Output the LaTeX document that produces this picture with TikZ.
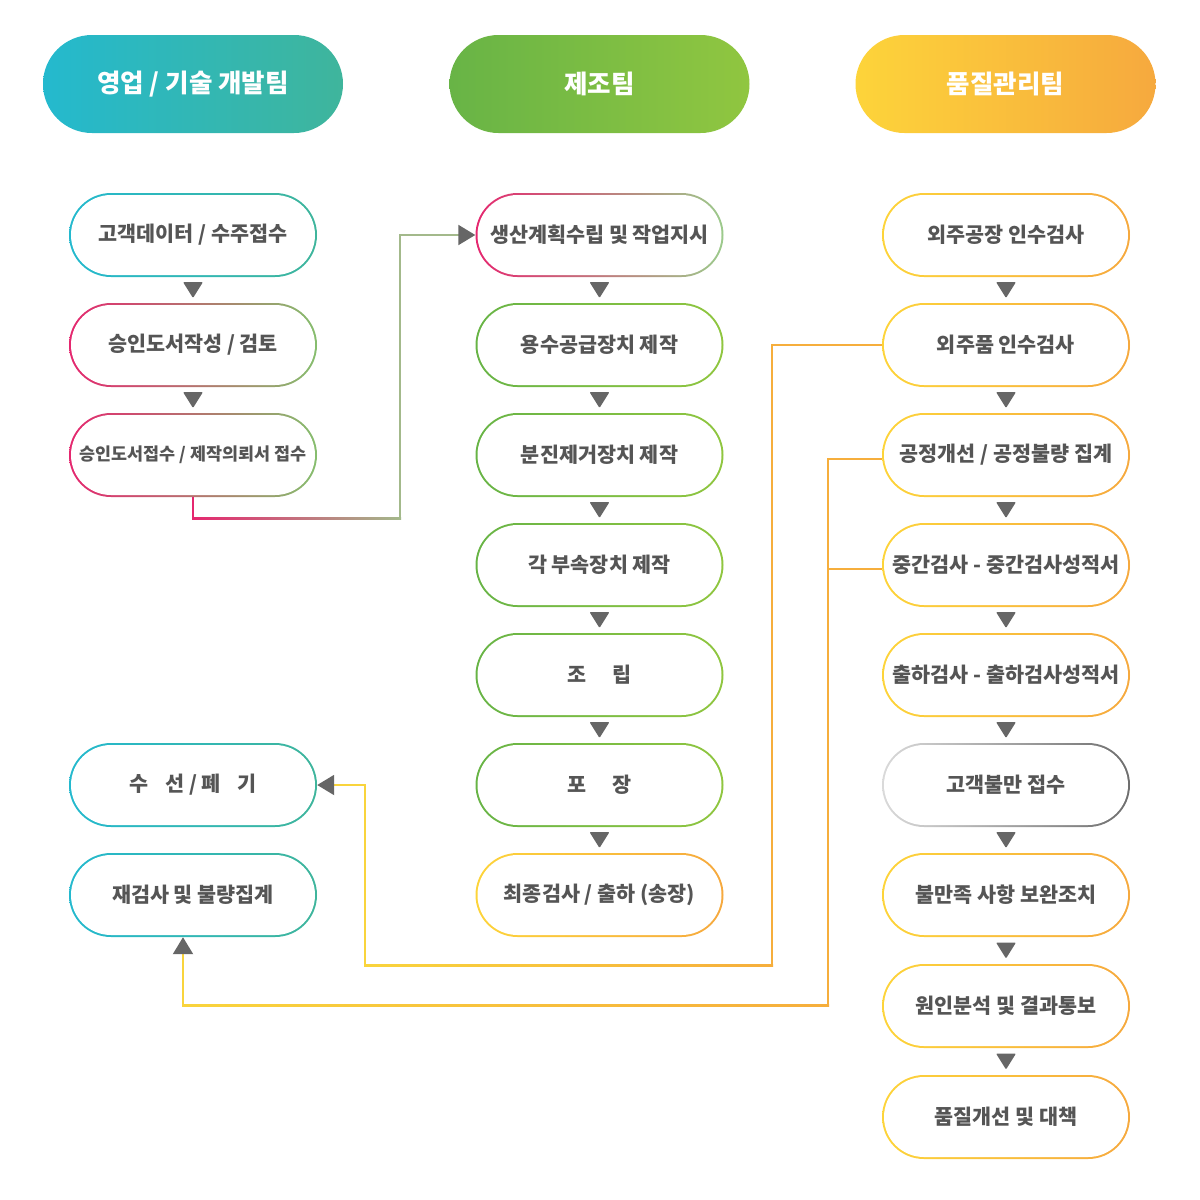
\documentclass[tikz,border=0pt]{standalone}
\usepackage{fontspec}
\setmainfont{Noto Sans CJK KR}
\usetikzlibrary{arrows.meta,calc}
\definecolor{txt}{HTML}{555555}
\definecolor{arrgray}{HTML}{666666}
\definecolor{pinkc}{HTML}{E5276F}
\definecolor{sagec}{HTML}{86BE6E}
\definecolor{litegreen}{HTML}{9CCB8C}
\definecolor{cyanc}{HTML}{24B9CE}
\definecolor{tealc}{HTML}{3FB59C}
\definecolor{greenl}{HTML}{68B446}
\definecolor{greenr}{HTML}{90C640}
\definecolor{yellowc}{HTML}{FDD43A}
\definecolor{orangec}{HTML}{F6A93E}
\definecolor{grayl}{HTML}{DADADA}
\definecolor{grayr}{HTML}{6E6E6E}
\definecolor{lineor}{HTML}{F6AE3C}
\definecolor{lineye}{HTML}{F9D43C}
\definecolor{linesage}{HTML}{A3B98B}
\tikzset{
  flow/.style 2 args={rectangle,rounded corners=42pt,minimum width=248pt,minimum height=84pt,
    inner sep=0pt,left color=#1,right color=#2,text=txt,font=\fontsize{20.7}{24}\selectfont\bfseries,
    path picture={\fill[white,rounded corners=40pt]
      ([shift={(2pt,-2pt)}]path picture bounding box.north west) rectangle
      ([shift={(-2pt,2pt)}]path picture bounding box.south east);}},
  head/.style 2 args={rectangle,rounded corners=49pt,minimum width=300pt,minimum height=98pt,
    left color=#1,right color=#2,text=white,font=\fontsize{25.5}{29}\selectfont\bfseries},
  tri/.style={fill=arrgray,rounded corners=1pt},
  conn/.style={line width=2pt},
  endarrow/.style={-{Triangle[length=17pt,width=20pt,color=arrgray]}}
}
\begin{document}
\begin{tikzpicture}[x=1pt,y=-1pt]

\useasboundingbox (0,0) rectangle (1200,1200);

% team headers
\node[head={cyanc}{tealc}] (h1) at (193,84) {영업 / 기술 개발팀};
\node[head={greenl}{greenr}] (h2) at (599.5,84) {제조팀};
\node[head={yellowc}{orangec}] (h3) at (1005.5,84) {품질관리팀};

% sales / engineering
\node[flow={cyanc}{tealc}] (a1) at (193,235) {고객데이터 / 수주접수};
\node[flow={pinkc}{sagec}] (a2) at (193,345) {승인도서작성 / 검토};
\node[flow={pinkc}{sagec},font=\fontsize{17.4}{20}\selectfont\bfseries] (a3) at (193,455) {승인도서접수 / 제작의뢰서 접수};
\node[flow={cyanc}{tealc}] (a7) at (193,785) {수\hspace{0.8em}선 / 폐\hspace{0.8em}기};
\node[flow={cyanc}{tealc}] (a8) at (193,895) {재검사 및 불량집계};

% manufacturing
\node[flow={pinkc}{litegreen}] (m1) at (599.5,235) {생산계획수립 및 작업지시};
\node[flow={greenl}{greenr}] (m2) at (599.5,345) {용수공급장치 제작};
\node[flow={greenl}{greenr}] (m3) at (599.5,455) {분진제거장치 제작};
\node[flow={greenl}{greenr}] (m4) at (599.5,565) {각 부속장치 제작};
\node[flow={greenl}{greenr}] (m5) at (599.5,675) {조\hspace{1.3em}립};
\node[flow={greenl}{greenr}] (m6) at (599.5,785) {포\hspace{1.3em}장};
\node[flow={yellowc}{orangec}] (m7) at (599.5,895) {최종검사 / 출하 (송장)};

% quality
\node[flow={yellowc}{orangec}] (q1) at (1006,235) {외주공장 인수검사};
\node[flow={yellowc}{orangec}] (q2) at (1006,345) {외주품 인수검사};
\node[flow={yellowc}{orangec}] (q3) at (1006,455) {공정개선 / 공정불량 집계};
\node[flow={yellowc}{orangec}] (q4) at (1006,565) {중간검사 - 중간검사성적서};
\node[flow={yellowc}{orangec}] (q5) at (1006,675) {출하검사 - 출하검사성적서};
\node[flow={grayl}{grayr}] (q6) at (1006,785) {고객불만 접수};
\node[flow={yellowc}{orangec}] (q7) at (1006,895) {불만족 사항 보완조치};
\node[flow={yellowc}{orangec}] (q8) at (1006,1006) {원인분석 및 결과통보};
\node[flow={yellowc}{orangec}] (q9) at (1006,1117) {품질개선 및 대책};

% step triangles
\foreach \u/\v in {a1/a2,a2/a3,m1/m2,m2/m3,m3/m4,m4/m5,m5/m6,m6/m7,
  q1/q2,q2/q3,q3/q4,q4/q5,q5/q6,q6/q7,q7/q8,q8/q9}
  \fill[tri] ($(\u.south)!.5!(\v.north)$) +(-10,-8) -- +(10,-8) -- +(0,8) -- cycle;

% order to production
\coordinate (c1) at (193,518);
\coordinate (c2) at (400,518);
\draw[conn,pinkc] (a3.south) -- (c1);
\shade[left color=pinkc,right color=linesage] ($(c1)+(-1pt,-1pt)$) rectangle ($(c2)+(1pt,1pt)$);
\draw[conn,linesage,endarrow] (c2) |- (m1.west);

% incoming parts to repair / scrap
\coordinate (r1) at (772,965);
\coordinate (l1) at (365,965);
\draw[conn,lineor] (q2.west) -| (r1);
\shade[left color=lineye,right color=lineor] ($(l1)+(-1pt,-1pt)$) rectangle ($(r1)+(1pt,1pt)$);
\draw[conn,lineye,endarrow] (l1) |- (a7.east);

% process / midway checks to re-inspection
\coordinate (r2) at (828,1005);
\coordinate (l2) at (183,1005);
\coordinate (j4) at (828,569);
\draw[conn,lineor] ([yshift=-4pt]q3.west) -| (r2);
\draw[conn,lineor] ([yshift=-4pt]q4.west) -- (j4);
\shade[left color=lineye,right color=lineor] ($(l2)+(-1pt,-1pt)$) rectangle ($(r2)+(1pt,1pt)$);
\draw[conn,lineye,endarrow] (l2) -- ([xshift=-10pt]a8.south);

\end{tikzpicture}
\end{document}
